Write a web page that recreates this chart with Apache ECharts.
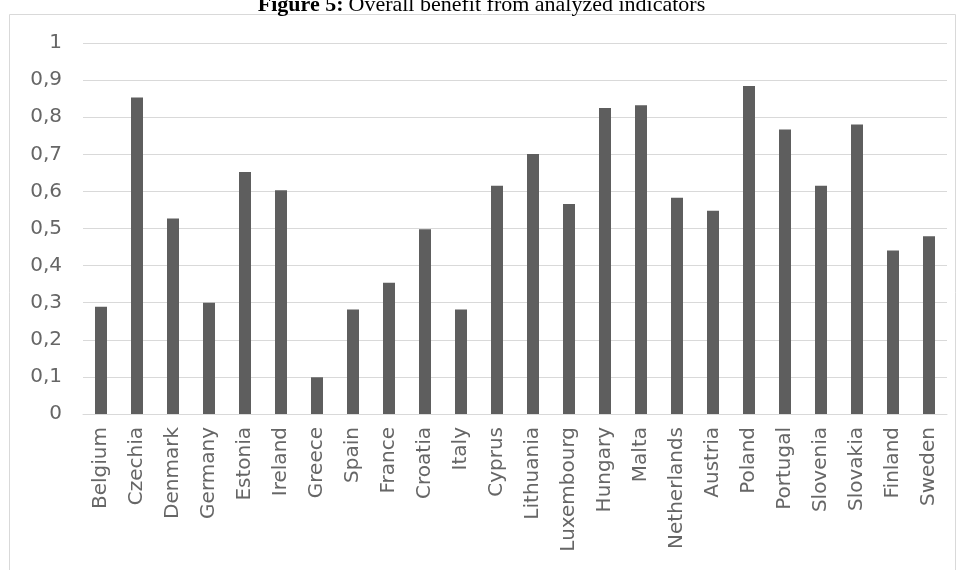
<!DOCTYPE html>
<html>
<head>
<meta charset="utf-8">
<script src="https://cdn.jsdelivr.net/npm/echarts@6/dist/echarts.min.js"></script>
<style>
  html, body { margin: 0; padding: 0; background: #fff; }
  #chart { width: 963px; height: 570px; }
</style>
</head>
<body>
<div id="chart"></div>
<script>
// Countries along the x axis
const countries = ['Belgium', 'Czechia', 'Denmark', 'Germany', 'Estonia', 'Ireland', 'Greece', 'Spain',
  'France', 'Croatia', 'Italy', 'Cyprus', 'Lithuania', 'Luxembourg', 'Hungary', 'Malta',
  'Netherlands', 'Austria', 'Poland', 'Portugal', 'Slovenia', 'Slovakia', 'Finland', 'Sweden'];

// Overall benefit score per country
const benefit = [0.289, 0.853, 0.527, 0.300, 0.652, 0.603, 0.099, 0.282,
  0.354, 0.498, 0.282, 0.615, 0.701, 0.566, 0.825, 0.832,
  0.583, 0.548, 0.884, 0.767, 0.615, 0.780, 0.441, 0.479];

// Y axis ticks (decimal comma)
const yTicks = [0, 0.1, 0.2, 0.3, 0.4, 0.5, 0.6, 0.7, 0.8, 0.9, 1];

const chart = echarts.init(document.getElementById('chart'), null, { renderer: 'canvas' });

const labelFont = "'DejaVu Sans', sans-serif";
const serif = "'Liberation Serif', 'Times New Roman', serif";

chart.setOption({
  animation: false,
  title: {
    text: '{b|Figure 5:} {n|Overall benefit from analyzed indicators}',
    left: 'center',
    top: -12,
    textStyle: {
      fontWeight: 'normal',
      rich: {
        b: { fontFamily: serif, fontWeight: 'bold', fontSize: 22, lineHeight: 24, color: '#000' },
        n: { fontFamily: serif, fontWeight: 'normal', fontSize: 22, lineHeight: 24, color: '#000' }
      }
    }
  },
  graphic: [{
    type: 'rect',
    shape: { x: 9.5, y: 14.5, width: 946, height: 570 },
    style: { fill: 'none', stroke: '#d9d9d9', lineWidth: 1 },
    z: -1
  }],
  grid: { left: 83, right: 16, top: 43, bottom: 156, containLabel: false },
  xAxis: {
    type: 'category',
    data: countries,
    axisLine: { show: true, lineStyle: { color: '#d9d9d9', width: 1 } },
    axisTick: { show: false },
    axisLabel: {
      rotate: 90,
      interval: 0,
      margin: 13,
      color: '#666666',
      fontFamily: labelFont,
      fontSize: 20
    }
  },
  yAxis: {
    type: 'value',
    min: 0,
    max: 1,
    interval: 0.1,
    axisLine: { show: false },
    axisTick: { show: false },
    splitLine: { lineStyle: { color: '#d9d9d9', width: 1 } },
    axisLabel: {
      margin: 21,
      color: '#666666',
      fontFamily: labelFont,
      fontSize: 20,
      formatter: function (v) {
        const t = yTicks.find(x => Math.abs(x - v) < 1e-9);
        return String(t !== undefined ? t : v).replace('.', ',');
      }
    }
  },
  series: [{
    type: 'bar',
    data: benefit,
    barWidth: 12,
    itemStyle: { color: '#5e5e5e' }
  }]
});
</script>
</body>
</html>
